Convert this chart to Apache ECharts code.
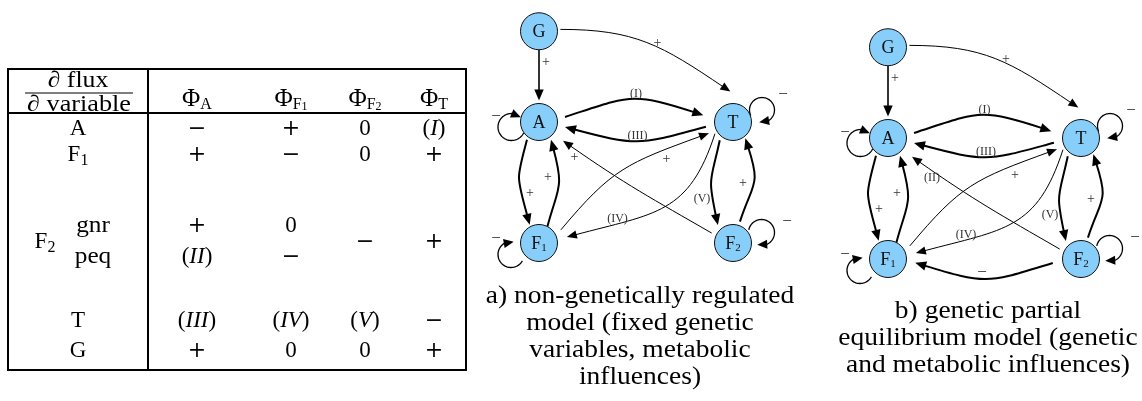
<!DOCTYPE html>
<html><head><meta charset="utf-8">
<script src="https://cdn.jsdelivr.net/npm/echarts@6/dist/echarts.min.js"></script>
<style>html,body{margin:0;padding:0;background:#fff;}#c{width:1142px;height:401px;}</style>
</head><body><div id="c"></div>
<script>
// ================= DATA =================
// Table: ∂flux / ∂variable
const tableColumns = ['A', 'F1', 'F2', 'T'];           // Φ subscripts
const tableRowLabels = ['A', 'F1', 'F2', 'T', 'G'];
const f2SubLabels = ['gnr', 'peq'];
const cellsA = ['−', '+', '0', '(I)'];
const cellsF1 = ['+', '−', '0', '+'];
const cellsF2gnr = ['+', '0'];
const cellsF2peq = ['(II)', '−'];
const cellsF2shared = ['−', '+'];
const cellsT = ['(III)', '(IV)', '(V)', '−'];
const cellsG = ['+', '0', '0', '+'];
const fracNumerator = '∂ flux';
const fracDenominator = '∂ variable';

// Network nodes (column / row in the diagram lattice)
const nodeNames = ['G', 'A', 'T', 'F1', 'F2'];
const nodeCol = [0, 0, 1, 0, 1];
const nodeRow = [-0.75, 0, 0, 1, 1];

// Edges: [source, target, sign / label]
const edgesA = [
  ['G', 'A', '+'], ['G', 'T', '+'], ['A', 'T', '(I)'], ['T', 'A', '(III)'],
  ['A', 'F1', '+'], ['F1', 'A', '+'], ['T', 'F2', '(V)'], ['F2', 'T', '+'],
  ['F1', 'T', '+'], ['T', 'F1', '(IV)'], ['F2', 'A', '+']
];
const edgesB = [
  ['G', 'A', '+'], ['G', 'T', '+'], ['A', 'T', '(I)'], ['T', 'A', '(III)'],
  ['A', 'F1', '+'], ['F1', 'A', '+'], ['T', 'F2', '(V)'], ['F2', 'T', '+'],
  ['F1', 'T', '+'], ['T', 'F1', '(IV)'], ['F2', 'A', '(II)'], ['F2', 'F1', '−']
];
const selfLoopNodes = ['A', 'T', 'F1', 'F2'];
const selfLoopSign = '−';

const captionA = ['a) non-genetically regulated', 'model (fixed genetic', 'variables, metabolic', 'influences)'];
const captionB = ['b) genetic partial', 'equilibrium model (genetic', 'and metabolic influences)'];

// ================= STYLE / LAYOUT =================
const FONT = 'Liberation Serif';
const SIGNFONT = 'DejaVu Serif';
const R = 18.5;
const NODE_FILL = '#87cefa';
// tangent angles (deg), anchor angles, looseness, gaps, width, label offset from midpoint
const edgeStyle = {
  'G-A':  {out: 270, aOut: 270, in: 90,  aIn: 90,  k: 0.3,  g1: 0, g2: 3,  w: 1.6, lab: [7, -14]},
  'G-T':  {out: 0,   aOut: 5,   in: 146, aIn: 95,  k: 0.35, g1: 3, g2: 12, w: 1,   lab: [21.5, -33]},
  'A-T':  {out: 18,  aOut: 11,  in: 162, aIn: 167, k: 0.35, g1: 8, g2: 12, w: 2,   lab: [0, -28]},
  'T-A':  {out: 195, aOut: 190, in: 345, aIn: 349, k: 0.35, g1: 9, g2: 8,  w: 2,   lab: [1.5, 14]},
  'A-F1': {out: 255, aOut: 236, in: 105, aIn: 117, k: 0.35, g1: 3, g2: 2,  w: 2,   lab: [-9, 10.5]},
  'F1-A': {out: 75,  aOut: 63,  in: 285, aIn: 304, k: 0.35, g1: 0, g2: 3,  w: 2,   lab: [9, -5.5]},
  'T-F2': {out: 258, aOut: 234, in: 102, aIn: 130, k: 0.35, g1: 4, g2: 5,  w: 2,   lab: [-31, 16.5]},
  'F2-T': {out: 72,  aOut: 72,  in: 288, aIn: 307, k: 0.35, g1: 4, g2: 2,  w: 2,   lab: [10, 0.5]},
  'F1-T': {out: 50,  aOut: 31,  in: 200, aIn: 205, k: 0.35, g1: 7, g2: 8,  w: 1,   lab: [30.5, -23.5]},
  'T-F1': {out: 252, aOut: 213, in: 15,  aIn: 12,  k: 0.37, g1: 3, g2: 10, w: 1,   lab: [-18.5, 36.5]},
  'F2-A': {out: 150, aOut: 155, in: 325, aIn: 322, k: 0.3,  g1: 5, g2: 12, w: 1,   lab: [-61.5, -25.5]},
  'F2-F1':{out: 197, aOut: 188, in: 343, aIn: 352, k: 0.35, g1: 10, g2: 9, w: 2,   lab: [-2.5, 14]}
};
const edgeLabelShift = {'F2-A:(II)': [9, 5]};
// self-loop: centre offset, radius, arc start/end angles (deg, drawn clockwise), label offset
const loopStyle = {
  A:  {dx: -27.5, dy: 5,     r: 13.5, a0: -25, a1: -314, lab: [-43, -5]},
  T:  {dx: 29,    dy: -12,   r: 12.5, a0: 206, a1: -103, lab: [50, -27]},
  F1: {dx: -28,   dy: 11.5,  r: 13,   a0: -29, a1: -282, lab: [-43, -4]},
  F2: {dx: 28.5,  dy: -10.5, r: 13,   a0: 168, a1: -109, lab: [54, -21]}
};

function idx(n) { return nodeNames.indexOf(n); }
function dirv(a) { const r = a * Math.PI / 180; return [Math.cos(r), -Math.sin(r)]; }
function txt(style) {
  return Object.assign({align: 'center', verticalAlign: 'middle', textAlign: 'center', textVerticalAlign: 'middle', fill: '#000', fontFamily: FONT}, style);
}

function makeEdgeRender(edges) {
  return function (params, api) {
    const e = edges[params.dataIndex];
    const key = e[0] + '-' + e[1];
    const st = edgeStyle[key];
    const p1 = api.coord([api.value(0), api.value(1)]);
    const p2 = api.coord([api.value(2), api.value(3)]);
    const L = Math.hypot(p2[0] - p1[0], p2[1] - p1[1]);
    const ao = dirv(st.aOut), o = dirv(st.out), ai = dirv(st.aIn), ii = dirv(st.in);
    const S = [p1[0] + ao[0] * (R + st.g1), p1[1] + ao[1] * (R + st.g1)];
    const E = [p2[0] + ai[0] * (R + st.g2), p2[1] + ai[1] * (R + st.g2)];
    const kL = st.k * L;
    const C1 = [S[0] + o[0] * kL, S[1] + o[1] * kL];
    const thick = st.w > 1.5;
    const al = thick ? 11 : 10, ah = thick ? 4.7 : 4.2;
    const t = [-ii[0], -ii[1]];
    const nrm = [-t[1], t[0]];
    const B = [E[0] - t[0] * al, E[1] - t[1] * al];
    const Le = [E[0] - t[0] * al * 0.8, E[1] - t[1] * al * 0.8];
    const C2 = [Le[0] + ii[0] * kL, Le[1] + ii[1] * kL];
    const sh = edgeLabelShift[key + ':' + e[2]] || [0, 0];
    const mid = [(p1[0] + p2[0]) / 2 + st.lab[0] + sh[0], (p1[1] + p2[1]) / 2 + st.lab[1] + sh[1]];
    const roman = e[2].charAt(0) === '(';
    return {type: 'group', children: [
      {type: 'bezierCurve', shape: {x1: S[0], y1: S[1], cpx1: C1[0], cpy1: C1[1], cpx2: C2[0], cpy2: C2[1], x2: Le[0], y2: Le[1]},
       style: {stroke: '#000', fill: 'none', lineWidth: st.w}},
      {type: 'polygon', shape: {points: [E, [B[0] + nrm[0] * ah, B[1] + nrm[1] * ah], [B[0] - nrm[0] * ah, B[1] - nrm[1] * ah]]},
       style: {fill: '#000', stroke: 'none'}},
      {type: 'text', x: mid[0], y: mid[1],
       style: txt({text: e[2], fontSize: roman ? 12 : (e[2] === '+' ? 14 : 17), fill: '#333'})}
    ]};
  };
}

function makeLoopRender() {
  return function (params, api) {
    const name = selfLoopNodes[params.dataIndex];
    const ls = loopStyle[name];
    const p = api.coord([api.value(0), api.value(1)]);
    const cx = p[0] + ls.dx, cy = p[1] + ls.dy;
    const pt = a => [cx + ls.r * Math.cos(a * Math.PI / 180), cy - ls.r * Math.sin(a * Math.PI / 180)];
    const al = 10, ah = 4.5;
    const dDeg = al / ls.r * 180 / Math.PI;
    const endA = ls.a1 + dDeg * 0.8;
    const pts = [];
    for (let a = ls.a0; a > endA; a -= 4) pts.push(pt(a));
    pts.push(pt(endA));
    const tip = pt(ls.a1), base = pt(ls.a1 + dDeg);
    const dl = Math.hypot(tip[0] - base[0], tip[1] - base[1]);
    const t = [(tip[0] - base[0]) / dl, (tip[1] - base[1]) / dl];
    const B = [tip[0] - t[0] * al, tip[1] - t[1] * al];
    const nrm = [-t[1], t[0]];
    return {type: 'group', children: [
      {type: 'polyline', shape: {points: pts}, style: {stroke: '#000', fill: 'none', lineWidth: 1.3}},
      {type: 'polygon', shape: {points: [tip, [B[0] + nrm[0] * ah, B[1] + nrm[1] * ah], [B[0] - nrm[0] * ah, B[1] - nrm[1] * ah]]},
       style: {fill: '#000', stroke: 'none'}},
      {type: 'text', x: p[0] + ls.lab[0], y: p[1] + ls.lab[1], style: txt({text: selfLoopSign, fontSize: 17, fill: '#333'})}
    ]};
  };
}

function nodeText(n) {
  if (n.length === 2) return '{m|' + n[0] + '}{s|' + n[1] + '}';
  return '{m|' + n + '}';
}
function makeNodeRender() {
  return function (params, api) {
    const n = nodeNames[params.dataIndex];
    const p = api.coord([api.value(0), api.value(1)]);
    return {type: 'group', children: [
      {type: 'circle', shape: {cx: p[0], cy: p[1], r: R}, style: {fill: NODE_FILL, stroke: '#111', lineWidth: 1}},
      {type: 'text', x: p[0], y: p[1] + 1, style: txt({text: nodeText(n), rich: {
        m: {fontSize: 18, fontFamily: FONT, lineHeight: 20, fill: '#111'},
        s: {fontSize: 11, fontFamily: FONT, lineHeight: 11, verticalAlign: 'bottom', fill: '#111'}
      }})}
    ]};
  };
}

// ---------- Table via graphic ----------
const TF = 23;
const richMain = {
  m: {fontSize: TF, fontFamily: FONT, lineHeight: 28, fill: '#000'},
  p: {fontSize: 25, fontFamily: FONT, lineHeight: 28, fill: '#000'},
  g: {fontSize: 22, fontFamily: SIGNFONT, lineHeight: 28, fill: '#000'},
  i: {fontSize: TF, fontFamily: FONT, fontStyle: 'italic', lineHeight: 28, fill: '#000'},
  s: {fontSize: 16, fontFamily: FONT, lineHeight: 17, verticalAlign: 'bottom', fill: '#000'},
  ss: {fontSize: 12, fontFamily: FONT, lineHeight: 11, verticalAlign: 'bottom', fill: '#000'}
};
function cellRich(s) {
  const m = s.match(/^\(([IV]+)\)$/);
  if (m) return '{m|(}{i|' + m[1] + '}{m|)}';
  if (/^[A-Z]\d$/.test(s)) return '{m|' + s[0] + '}{s|' + s[1] + '}';
  if (s === '+' || s === '−') return '{g|' + s + '}';
  return '{m|' + s + '}';
}
function headRich(c) {
  if (c.length === 2) return '{p|Φ}{s|' + c[0] + '}{ss|' + c[1] + '}';
  return '{p|Φ}{s|' + c + '}';
}
const colX = [78, 197, 291, 365, 434];
const rowYMap = {A: 129, F1: 155, F2: 242, T: 321, G: 351};
const subRowY = [226, 257];
const headerY = 99;

const graphics = [];
function addText(x, y, rich, sx) {
  graphics.push({type: 'text', z: 10, x: x, y: y, scaleX: sx || 1, style: txt({text: rich, rich: richMain, x: 0, y: 0})});
}
// borders
graphics.push({type: 'rect', z: 11, shape: {x: 8, y: 69, width: 458, height: 301}, style: {fill: 'none', stroke: '#000', lineWidth: 2}});
graphics.push({type: 'line', z: 11, shape: {x1: 148, y1: 69, x2: 148, y2: 370}, style: {stroke: '#000', lineWidth: 2}});
graphics.push({type: 'line', z: 11, shape: {x1: 8, y1: 113, x2: 466, y2: 113}, style: {stroke: '#000', lineWidth: 2}});
graphics.push({type: 'line', z: 11, shape: {x1: 25, y1: 93, x2: 133, y2: 93}, style: {stroke: '#000', lineWidth: 1.2}});
addText(78, 81, '{m|' + fracNumerator + '}', 1.12);
addText(79, 105, '{m|' + fracDenominator + '}', 1.14);
tableColumns.forEach((c, j) => addText(colX[j + 1], headerY, headRich(c)));
const rowCells = {A: cellsA, F1: cellsF1, T: cellsT, G: cellsG};
tableRowLabels.forEach(r => {
  if (r === 'F2') {
    addText(45, rowYMap.F2, cellRich(r));
    f2SubLabels.forEach((s, k) => addText(93, subRowY[k], '{m|' + s + '}', 1.1));
    [cellsF2gnr, cellsF2peq].forEach((arr, k) => arr.forEach((v, j) => addText(colX[j + 1], subRowY[k], cellRich(v))));
    cellsF2shared.forEach((v, j) => addText(colX[j + 3], rowYMap.F2, cellRich(v)));
  } else {
    addText(colX[0], rowYMap[r], cellRich(r));
    rowCells[r].forEach((v, j) => addText(colX[j + 1], rowYMap[r], cellRich(v)));
  }
});
// captions
function addCaption(lines, x, y, sx) {
  graphics.push({type: 'text', z: 10, x: x, y: y, scaleX: sx, style: {text: lines.join('\n'), x: 0, y: 0, fontSize: 25, lineHeight: 27, fontFamily: FONT, fill: '#000',
    align: 'center', textAlign: 'center', verticalAlign: 'top', textVerticalAlign: 'top'}});
}
addCaption(captionA, 640, 283, 1.1);
addCaption(captionB, 988, 298, 1.1);

// ---------- Chart ----------
const chart = echarts.init(document.getElementById('c'), null, {renderer: 'canvas'});
function nodeData() { return nodeNames.map((n, i) => [nodeCol[i], nodeRow[i]]); }
function edgeData(edges) { return edges.map(e => [nodeCol[idx(e[0])], nodeRow[idx(e[0])], nodeCol[idx(e[1])], nodeRow[idx(e[1])]]); }
function loopData() { return selfLoopNodes.map(n => [nodeCol[idx(n)], nodeRow[idx(n)]]); }
function diagramSeries(gi, edges) {
  return [
    {type: 'custom', coordinateSystem: 'cartesian2d', xAxisIndex: gi, yAxisIndex: gi, z: 2, silent: true,
     renderItem: makeEdgeRender(edges), data: edgeData(edges)},
    {type: 'custom', coordinateSystem: 'cartesian2d', xAxisIndex: gi, yAxisIndex: gi, z: 2, silent: true,
     renderItem: makeLoopRender(), data: loopData()},
    {type: 'custom', coordinateSystem: 'cartesian2d', xAxisIndex: gi, yAxisIndex: gi, z: 3, silent: true,
     renderItem: makeNodeRender(), data: nodeData()}
  ];
}
const axisCommon = {show: false, type: 'value'};
chart.setOption({
  animation: false,
  backgroundColor: '#fff',
  grid: [
    {left: 539, top: 1, width: 194, height: 242},
    {left: 888, top: 17, width: 193, height: 242}
  ],
  xAxis: [Object.assign({gridIndex: 0, min: 0, max: 1}, axisCommon), Object.assign({gridIndex: 1, min: 0, max: 1}, axisCommon)],
  yAxis: [Object.assign({gridIndex: 0, min: -1, max: 1, inverse: true}, axisCommon), Object.assign({gridIndex: 1, min: -1, max: 1, inverse: true}, axisCommon)],
  graphic: {elements: graphics},
  series: diagramSeries(0, edgesA).concat(diagramSeries(1, edgesB))
});
</script></body></html>
